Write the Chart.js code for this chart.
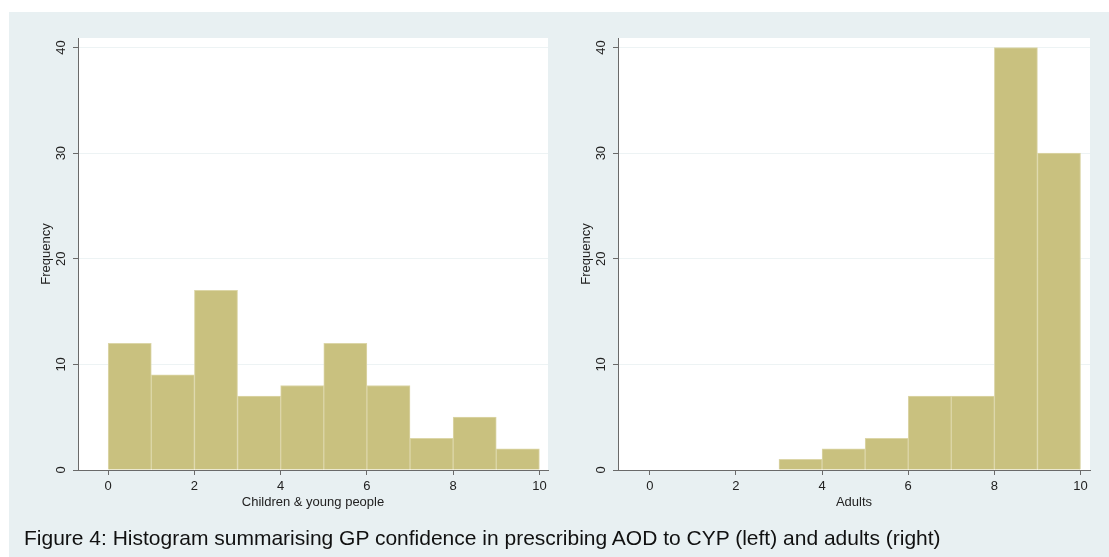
<!DOCTYPE html>
<html>
<head>
<meta charset="utf-8">
<script src="https://cdn.jsdelivr.net/npm/chart.js@4.4.1/dist/chart.umd.min.js"></script>
<style>
  html, body { margin: 0; padding: 0; background: #ffffff; }
  #page { position: relative; width: 1109px; height: 557px; overflow: hidden; }
  #panel { position: absolute; left: 9px; top: 12px; width: 1100px; height: 545px; background: #e8f0f2; }
  canvas { position: absolute; top: 0; }
  #c1 { left: 0px; }
  #c2 { left: 540px; }
  #caption { position: absolute; left: 24px; top: 526px; font-family: "Liberation Sans", Arial, sans-serif; font-size: 21px; color: #111; white-space: nowrap; line-height: 24px; }
</style>
</head>
<body>
<div id="page">
  <div id="panel"></div>
  <canvas id="c1" width="560" height="557"></canvas>
  <canvas id="c2" width="569" height="557"></canvas>
  <div id="caption">Figure 4: Histogram summarising GP confidence in prescribing AOD to CYP (left) and adults (right)</div>
</div>
<script>
// ---- data ----
const binStarts = [0, 1, 2, 3, 4, 5, 6, 7, 8, 9];
const cypCounts = [12, 9, 17, 7, 8, 12, 8, 3, 5, 2];
const adultCounts = [0, 0, 0, 1, 2, 3, 7, 7, 40, 30];
const xTickValues = [0, 2, 4, 6, 8, 10];
const yTickValues = [0, 10, 20, 30, 40];
const cypTitle = "Children & young people";
const adultTitle = "Adults";
const yTitle = "Frequency";

const FONT = "'Liberation Sans', Arial, Helvetica, sans-serif";
const AXIS_COLOR = "#6a6a6a";

const plotBg = {
  id: 'plotBg',
  beforeDraw(chart) {
    const a = chart.chartArea;
    const ctx = chart.ctx;
    ctx.save();
    ctx.fillStyle = '#ffffff';
    ctx.fillRect(a.left, a.top, a.right - a.left, a.bottom - a.top);
    ctx.restore();
  }
};

function makeChart(canvasId, counts, xTitle, xMin, xMax, padRight) {
  const points = [];
  binStarts.forEach((b, i) => {
    if (counts[i] > 0) points.push({ x: b + 0.5, y: counts[i] });
  });
  return new Chart(document.getElementById(canvasId), {
    type: 'bar',
    data: {
      datasets: [{
        data: points,
        backgroundColor: '#c9c17f',
        borderColor: '#dcd6a8',
        borderWidth: 1,
        barPercentage: 1,
        categoryPercentage: 1
      }]
    },
    options: {
      responsive: false,
      animation: false,
      events: [],
      layout: { padding: { left: 0, top: 38, right: padRight, bottom: 0 } },
      plugins: { legend: { display: false }, tooltip: { enabled: false } },
      scales: {
        x: {
          type: 'linear',
          offset: false,
          min: xMin,
          max: xMax,
          afterBuildTicks(scale) { scale.ticks = xTickValues.map(v => ({ value: v })); },
          afterFit(scale) { scale.height = 87; },
          grid: { offset: false, drawOnChartArea: false, drawTicks: true, tickLength: 5, tickColor: AXIS_COLOR, tickWidth: 1 },
          border: { display: true, color: AXIS_COLOR, width: 1 },
          ticks: { font: { family: FONT, size: 13 }, color: '#222', padding: 4, maxRotation: 0, minRotation: 0 },
          title: { display: true, text: xTitle, font: { family: FONT, size: 13 }, color: '#222', padding: { top: 0, bottom: 47 } }
        },
        y: {
          type: 'linear',
          min: 0,
          max: 40.9,
          afterBuildTicks(scale) { scale.ticks = yTickValues.map(v => ({ value: v })); },
          afterFit(scale) { scale.width = 78; },
          grid: { color: '#edf3f4', lineWidth: 1, drawTicks: true, tickLength: 5, tickColor: AXIS_COLOR, tickWidth: 1 },
          border: { display: true, color: AXIS_COLOR, width: 1 },
          ticks: { font: { family: FONT, size: 13 }, color: '#222', padding: 4.5, minRotation: 90, maxRotation: 90, crossAlign: 'center' },
          title: { display: true, text: yTitle, font: { family: FONT, size: 13 }, color: '#222', padding: { top: 38.5, bottom: 0 } }
        }
      }
    },
    plugins: [plotBg]
  });
}

makeChart('c1', cypCounts, cypTitle, -0.70, 10.2, 12);
makeChart('c2', adultCounts, adultTitle, -0.737, 10.22, 19);
</script>
</body>
</html>
